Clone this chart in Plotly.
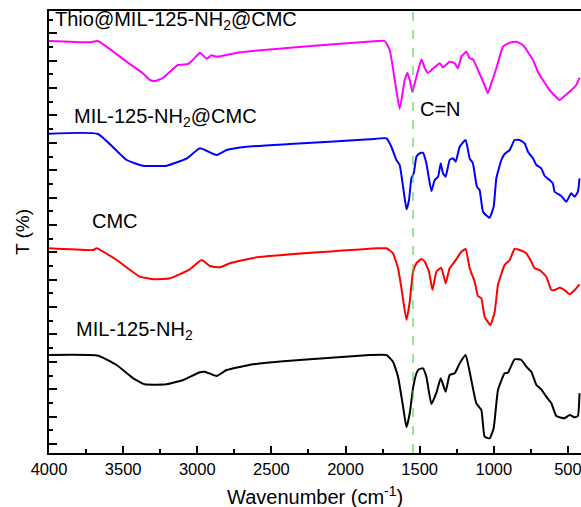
import plotly.graph_objects as go

# ---- data (wavenumber in cm^-1, transmittance in arbitrary stacked units) ----
thio_w = [4000, 3724, 3670, 3476, 3367, 3319, 3286, 3232, 3131, 3063, 3030, 2982, 2937, 2904, 2870,
          2713, 2376, 1783, 1736, 1702, 1668, 1635, 1601, 1583, 1567, 1549, 1522, 1488, 1466, 1444,
          1421, 1365, 1343, 1298, 1264, 1242, 1219, 1185, 1163, 1141, 1107, 1062, 1040, 1017, 983,
          938, 893, 848, 804, 736, 703, 669, 624, 556, 523, 489, 444, 422]
thio_t = [412, 410.7, 412, 391.3, 379.7, 373, 372, 375, 388, 389, 393, 400.3, 394.3, 397.7, 396.3,
          400.7, 405.3, 412, 412, 403, 373, 344, 373, 380, 373, 361, 376.3, 393.7, 385, 380,
          383, 389.7, 385.7, 391.3, 389.7, 384.7, 396.3, 401.3, 394.7, 393.7, 383, 368, 359.7, 369.7, 384.7,
          406.3, 410.3, 411.3, 408, 393, 381.3, 373, 363, 353, 357, 361.3, 368, 375.3]

milcmc_w = [4000, 3670, 3476, 3367, 3205, 3070, 2982, 2870, 2802, 2668, 2376, 1837, 1724, 1691, 1657,
            1635, 1612, 1589, 1572, 1556, 1540, 1522, 1500, 1478, 1455, 1421, 1399, 1376, 1358, 1343,
            1325, 1298, 1275, 1257, 1230, 1190, 1163, 1141, 1114, 1096, 1073, 1040, 1028, 1001, 983,
            949, 927, 893, 860, 826, 792, 770, 736, 713, 680, 657, 624, 602, 590, 545, 511, 478, 455,
            433, 422]
milcmc_t = [319.3, 319, 293, 287.3, 287.3, 294.7, 304.7, 298, 303, 306.3, 309, 313.7, 314.7, 306.3, 293,
            288, 266.3, 243.7, 253, 274.7, 279.7, 296.3, 299.7, 300.3, 289.7, 262, 273, 276.3, 289.7, 279.7,
            276.3, 293, 294.7, 291.3, 306.3, 313, 294.7, 289.7, 266.3, 263, 241.3, 236.3, 235.3, 246.3, 274.7,
            293, 299, 303, 313, 313, 309.7, 301.3, 294.7, 288, 284.7, 277, 273, 269.7, 261.3, 257, 251.3,
            259.7, 256.3, 261.3, 274.7]

cmc_w = [4000, 3701, 3679, 3544, 3387, 3286, 3185, 3050, 2971, 2915, 2848, 2780, 2600, 1781, 1724,
         1680, 1646, 1623, 1589, 1567, 1545, 1522, 1488, 1466, 1437, 1414, 1387, 1354, 1325, 1298,
         1264, 1219, 1190, 1163, 1129, 1107, 1084, 1062, 1023, 994, 972, 927, 893, 860, 826, 781,
         747, 725, 691, 646, 612, 590, 556, 523, 489, 455, 422]
cmc_t = [204.7, 203, 204.7, 193, 176.3, 173.7, 174.7, 183.7, 193, 187, 185.7, 189.7, 195.7, 204.7, 204.7,
         199.7, 184.7, 164.7, 133, 151.3, 181.3, 189.7, 194, 191.3, 181.3, 163, 181.3, 185.3, 169.7, 184.7,
         191.3, 201.3, 204, 184.7, 171.3, 157, 154.7, 136.3, 128, 141.3, 168, 188, 193, 204, 203, 199.7,
         191.3, 184.7, 183, 176.3, 163, 163, 165.3, 163, 158.7, 163, 168.7]

mil_w = [4000, 3668, 3544, 3432, 3353, 3207, 3095, 2982, 2949, 2870, 2802, 2623, 2533, 2309, 1837,
         1724, 1680, 1646, 1612, 1589, 1567, 1545, 1522, 1505, 1478, 1455, 1421, 1387, 1358, 1325,
         1298, 1264, 1230, 1190, 1163, 1118, 1084, 1062, 1028, 1001, 972, 927, 905, 860, 814, 781,
         747, 713, 680, 646, 612, 579, 523, 489, 455, 433, 422]
mil_t = [98, 97.3, 88, 74.7, 68.7, 68.7, 73, 80.7, 81.3, 77, 83, 88.7, 90.3, 93, 98,
         98, 91.3, 76.3, 46.3, 25.7, 39.7, 64.7, 79.7, 83.7, 84.7, 76.3, 49, 60.3, 74.7, 61.3,
         78, 79.7, 89.7, 98, 81.3, 49.7, 43, 16.3, 14.7, 24.7, 63, 79.7, 80.3, 93.7, 93, 86.3,
         81.3, 68, 63.7, 56.3, 49.7, 37, 34.7, 38, 35.7, 37, 59.7]

series_names = ["Thio@MIL-125-NH<sub>2</sub>@CMC", "MIL-125-NH<sub>2</sub>@CMC", "CMC", "MIL-125-NH<sub>2</sub>"]
series_colors = ["#FF00FF", "#0000FF", "#FF0000", "#000000"]
label_x = [3975, 3845, 3724, 3832]
label_y = [433, 336, 232, 123]
cn_x, cn_y, cn_text = 1514, 344, "C=N"
marker_line_w = 1545

x_tickvals = [4000, 3500, 3000, 2500, 2000, 1500, 1000, 500]

FONT = "Arial, Liberation Sans, sans-serif"

fig = go.Figure()
for (w, t), name, col in zip([(thio_w, thio_t), (milcmc_w, milcmc_t), (cmc_w, cmc_t), (mil_w, mil_t)],
                             series_names, series_colors):
    fig.add_trace(go.Scatter(x=w, y=t, mode="lines", name=name,
                             line=dict(color=col, width=2, shape="spline", smoothing=0.4),
                             showlegend=False))

fig.add_shape(type="line", xref="x", yref="paper", x0=marker_line_w, x1=marker_line_w, y0=0, y1=1,
              line=dict(color="#33CC33", width=1, dash="dash"))

for name, lx, ly in zip(series_names, label_x, label_y):
    fig.add_annotation(x=lx, y=ly, text=name, showarrow=False, xanchor="left", yanchor="middle",
                       font=dict(family=FONT, size=20, color="black"))
fig.add_annotation(x=cn_x, y=cn_y, text=cn_text, showarrow=False, xanchor="left", yanchor="middle",
                   font=dict(family=FONT, size=20, color="black"))

fig.add_annotation(xref="paper", yref="paper", x=0.5, y=0, yshift=-42, text="Wavenumber (cm<sup>-1</sup>)",
                   showarrow=False, xanchor="center", yanchor="middle",
                   font=dict(family=FONT, size=20, color="black"))
fig.add_annotation(xref="paper", yref="paper", x=0, xshift=-27, y=0.5, text="T (%)", textangle=-90,
                   showarrow=False, xanchor="center", yanchor="middle",
                   font=dict(family=FONT, size=19, color="black"))

fig.update_layout(
    width=581, height=507,
    margin=dict(l=49, r=0, t=11, b=54),
    plot_bgcolor="white", paper_bgcolor="white",
    font=dict(family=FONT, size=16.5, color="black"),
)
fig.update_xaxes(range=[4000, 412], tickvals=x_tickvals, ticks="inside", ticklen=7, tickwidth=1.5,
                 tickcolor="black", showline=True, linecolor="black", linewidth=2, mirror=True,
                 showgrid=False, zeroline=False, tickfont=dict(size=16.5), ticklabeloverflow="allow",
                 minor=dict(dtick=250, tick0=4000, ticks="inside", ticklen=4, tickwidth=1.5, tickcolor="black"))
fig.update_yaxes(range=[0, 442], tick0=9, dtick=27.38, ticks="inside", ticklen=8, tickwidth=1.5,
                 tickcolor="black", showline=True, linecolor="black", linewidth=2, mirror=False,
                 showgrid=False, zeroline=False, showticklabels=False,
                 minor=dict(tick0=9, dtick=13.69, ticks="inside", ticklen=4, tickwidth=1.5, tickcolor="black"))

# remove the default page margin so the figure fills the window exactly
fig.write_html("out.html", config={"displayModeBar": False},
               post_script="document.body.style.margin='0';document.body.style.overflow='hidden';")
